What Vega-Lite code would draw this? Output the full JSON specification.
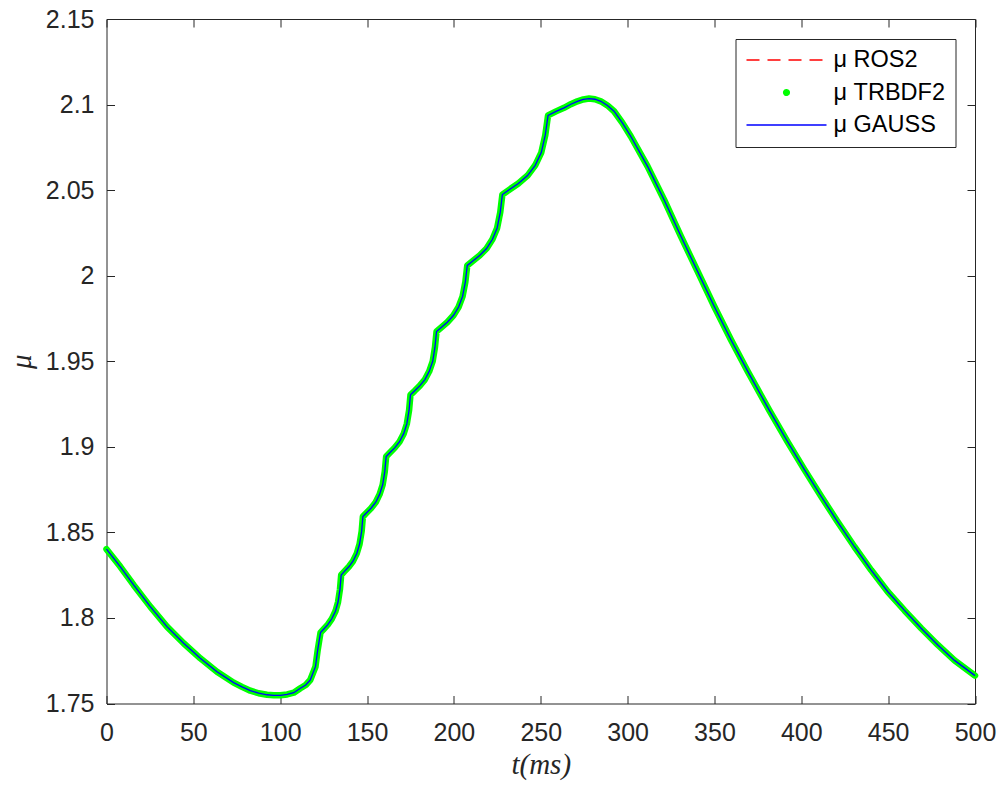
{
  "$schema": "https://vega.github.io/schema/vega-lite/v6.json",
  "width": 868.5,
  "height": 684.5,
  "autosize": {"type": "none"},
  "padding": {"left": 106.5, "top": 19, "right": 28, "bottom": 83.5},
  "background": "white",
  "config": {
    "view": {"stroke": "#262626", "strokeWidth": 1},
    "axis": {
      "domain": false,
      "ticks": true,
      "tickColor": "#262626",
      "tickWidth": 1,
      "tickSize": 8,
      "offset": -8,
      "labelFlush": false,
      "grid": false,
      "labelFont": "Liberation Sans",
      "labelFontSize": 25,
      "labelColor": "#262626",
      "titleFont": "Liberation Serif",
      "titleFontStyle": "italic",
      "titleFontWeight": "normal",
      "titleFontSize": 29,
      "titleColor": "#262626"
    }
  },
  "data": {
    "values": [
      {"t": 0, "mu": 1.8402}, {"t": 7.9, "mu": 1.8300}, {"t": 15.6, "mu": 1.8193}, {"t": 25.2, "mu": 1.8066},
      {"t": 34.8, "mu": 1.7949}, {"t": 44.4, "mu": 1.7852}, {"t": 54.0, "mu": 1.7764}, {"t": 63.6, "mu": 1.7686},
      {"t": 73.2, "mu": 1.7622}, {"t": 78.0, "mu": 1.7597}, {"t": 82.8, "mu": 1.7575}, {"t": 87.6, "mu": 1.7560}, {"t": 92.4, "mu": 1.7551}, {"t": 96.3, "mu": 1.7548}, {"t": 100.1, "mu": 1.7548},
      {"t": 104.0, "mu": 1.7553}, {"t": 107.8, "mu": 1.7563}, {"t": 111.6, "mu": 1.7589}, {"t": 114.7, "mu": 1.7608}, {"t": 117.3, "mu": 1.7637}, {"t": 120.3, "mu": 1.7715},
      {"t": 121.6, "mu": 1.7813}, {"t": 123.2, "mu": 1.7914},
      {"t": 125.0, "mu": 1.7934}, {"t": 127.4, "mu": 1.7961}, {"t": 129.7, "mu": 1.7995}, {"t": 131.8, "mu": 1.8039}, {"t": 133.3, "mu": 1.8093}, {"t": 134.4, "mu": 1.8167},
      {"t": 135.1, "mu": 1.8251},
      {"t": 137.0, "mu": 1.8272}, {"t": 139.5, "mu": 1.8299}, {"t": 142.0, "mu": 1.8333}, {"t": 144.1, "mu": 1.8377}, {"t": 145.7, "mu": 1.8432}, {"t": 146.9, "mu": 1.8507},
      {"t": 147.6, "mu": 1.8592},
      {"t": 149.6, "mu": 1.8613}, {"t": 152.3, "mu": 1.8641}, {"t": 155.0, "mu": 1.8676}, {"t": 157.2, "mu": 1.8722}, {"t": 159.0, "mu": 1.8778}, {"t": 160.2, "mu": 1.8855},
      {"t": 161.0, "mu": 1.8943},
      {"t": 163.1, "mu": 1.8965}, {"t": 165.9, "mu": 1.8994}, {"t": 168.7, "mu": 1.9030}, {"t": 171.1, "mu": 1.9077}, {"t": 172.9, "mu": 1.9134}, {"t": 174.2, "mu": 1.9214},
      {"t": 175.0, "mu": 1.9304},
      {"t": 177.3, "mu": 1.9326}, {"t": 180.3, "mu": 1.9356}, {"t": 183.3, "mu": 1.9393}, {"t": 185.8, "mu": 1.9441}, {"t": 187.8, "mu": 1.9500}, {"t": 189.1, "mu": 1.9582},
      {"t": 190.0, "mu": 1.9674},
      {"t": 192.7, "mu": 1.9697}, {"t": 196.2, "mu": 1.9728}, {"t": 199.7, "mu": 1.9767}, {"t": 202.7, "mu": 1.9817}, {"t": 205.0, "mu": 1.9879}, {"t": 206.6, "mu": 1.9964},
      {"t": 207.7, "mu": 2.0060},
      {"t": 210.7, "mu": 2.0085}, {"t": 214.8, "mu": 2.0118}, {"t": 218.8, "mu": 2.0159}, {"t": 222.2, "mu": 2.0213}, {"t": 224.9, "mu": 2.0279}, {"t": 226.7, "mu": 2.0371},
      {"t": 227.9, "mu": 2.0474},
      {"t": 231.8, "mu": 2.0502}, {"t": 237.1, "mu": 2.0539}, {"t": 242.4, "mu": 2.0585}, {"t": 246.8, "mu": 2.0645}, {"t": 250.3, "mu": 2.0719}, {"t": 252.6, "mu": 2.0821},
      {"t": 254.2, "mu": 2.0937},
      {"t": 258.8, "mu": 2.0960}, {"t": 263.4, "mu": 2.0981}, {"t": 267.3, "mu": 2.1002}, {"t": 271.1, "mu": 2.1019}, {"t": 274.5, "mu": 2.1030}, {"t": 277.8, "mu": 2.1035}, {"t": 281.2, "mu": 2.1031}, {"t": 284.6, "mu": 2.1019},
      {"t": 288.4, "mu": 2.0995}, {"t": 292.2, "mu": 2.0961}, {"t": 297.0, "mu": 2.0893}, {"t": 301.8, "mu": 2.0815}, {"t": 311.5, "mu": 2.0639}, {"t": 321.0, "mu": 2.0444},
      {"t": 330.7, "mu": 2.0230}, {"t": 340.3, "mu": 2.0025}, {"t": 349.9, "mu": 1.9820}, {"t": 359.5, "mu": 1.9626},
      {"t": 369.1, "mu": 1.9442}, {"t": 381.6, "mu": 1.9213}, {"t": 392.2, "mu": 1.9028}, {"t": 401.7, "mu": 1.8868},
      {"t": 411.4, "mu": 1.8711}, {"t": 421.0, "mu": 1.8560}, {"t": 430.6, "mu": 1.8416}, {"t": 440.2, "mu": 1.8280},
      {"t": 449.8, "mu": 1.8153}, {"t": 459.4, "mu": 1.8044}, {"t": 469.0, "mu": 1.7940}, {"t": 478.6, "mu": 1.7842},
      {"t": 488.2, "mu": 1.7752}, {"t": 500, "mu": 1.7663}
    ]
  },
  "layer": [
    {
      "mark": {"type": "line", "strokeDash": [13, 8], "strokeWidth": 1.2},
      "encoding": {
        "x": {
          "field": "t", "type": "quantitative",
          "scale": {"domain": [0, 500], "nice": false, "zero": false},
          "axis": {
            "orient": "bottom",
            "values": [0, 50, 100, 150, 200, 250, 300, 350, 400, 450, 500],
            "format": "d",
            "labelPadding": 17,
            "title": "t(ms)",
            "titleBaseline": "alphabetic",
            "titleY": 78,
            "titleX": 434.25
          }
        },
        "y": {
          "field": "mu", "type": "quantitative",
          "scale": {"domain": [1.75, 2.15], "nice": false, "zero": false},
          "axis": {
            "orient": "left",
            "values": [1.75, 1.8, 1.85, 1.9, 1.95, 2, 2.05, 2.1, 2.15],
            "format": "~g",
            "labelPadding": 12.5,
            "title": "μ",
            "titleX": -93,
            "titleY": 342.25,
            "titleBaseline": "middle",
            "titleAlign": "center"
          }
        },
        "color": {
          "datum": "μ ROS2", "type": "nominal",
          "scale": {"domain": ["μ ROS2", "μ TRBDF2", "μ GAUSS"], "range": ["#ff0000", "#00ff00", "#0000ff"]},
          "legend": {
            "title": null,
            "orient": "top-right",
            "offset": 20,
            "padding": 10,
            "rowPadding": 8.5,
            "clipHeight": 22,
            "symbolType": "stroke",
            "symbolSize": 6400,
            "symbolStrokeWidth": 1.5,
            "symbolOpacity": 1,
            "labelFont": "Liberation Sans",
            "labelFontSize": 23.5,
            "labelColor": "#000000",
            "labelOffset": 6,
            "labelLimit": 300,
            "strokeColor": "#262626",
            "fillColor": "white",
            "cornerRadius": 0,
            "encode": {
              "symbols": {
                "update": {
                  "shape": {"signal": "datum.value === 'μ TRBDF2' ? 'M -0.07 0 A 0.07 0.07 0 1 0 0.07 0 A 0.07 0.07 0 1 0 -0.07 0 Z' : 'stroke'"},
                  "fill": {"signal": "datum.value === 'μ TRBDF2' ? '#00ff00' : 'transparent'"},
                  "strokeDash": {"signal": "datum.value === 'μ ROS2' ? [13, 8] : [1, 0]"},
                  "opacity": {"value": 1}
                }
              }
            }
          }
        }
      }
    },
    {
      "mark": {"type": "line", "strokeWidth": 6.5, "strokeCap": "round", "strokeJoin": "round"},
      "encoding": {
        "x": {"field": "t", "type": "quantitative", "axis": null},
        "y": {"field": "mu", "type": "quantitative", "axis": null},
        "color": {"datum": "μ TRBDF2", "type": "nominal"}
      }
    },
    {
      "mark": {"type": "line", "strokeWidth": 1.3},
      "encoding": {
        "x": {
          "field": "t", "type": "quantitative",
          "axis": {"orient": "top", "values": [0, 50, 100, 150, 200, 250, 300, 350, 400, 450, 500], "labels": false, "title": null}
        },
        "y": {
          "field": "mu", "type": "quantitative",
          "axis": {"orient": "right", "values": [1.75, 1.8, 1.85, 1.9, 1.95, 2, 2.05, 2.1, 2.15], "labels": false, "title": null}
        },
        "color": {"datum": "μ GAUSS", "type": "nominal"}
      }
    }
  ],
  "resolve": {"axis": {"x": "independent", "y": "independent"}}
}
